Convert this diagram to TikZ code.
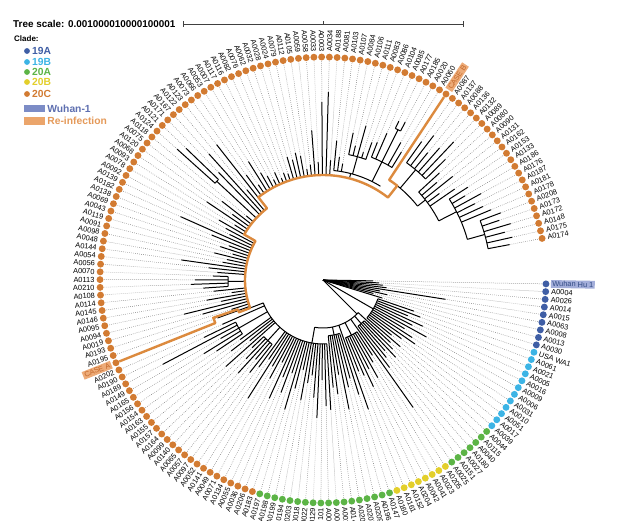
\documentclass[tikz,border=0pt]{standalone}
\usepackage{fontspec}
\setmainfont{Liberation Sans}
\usetikzlibrary{positioning}

\definecolor{c19A}{HTML}{3F5EA5}
\definecolor{c19B}{HTML}{3CB4E5}
\definecolor{c20A}{HTML}{5CB446}
\definecolor{c20B}{HTML}{E3CF2B}
\definecolor{c20C}{HTML}{D27B32}
\definecolor{wubar}{HTML}{7C8CC6}
\definecolor{wutext}{HTML}{5E6FB0}
\definecolor{wubg}{HTML}{A3AEDA}
\definecolor{reinfline}{HTML}{DC8A3E}
\definecolor{reinfbar}{HTML}{EBA56B}
\definecolor{reinftext}{HTML}{E59A5A}
\definecolor{casebg}{HTML}{EDAB78}
\definecolor{casetext}{HTML}{C4682A}

\tikzset{
  branch/.style={line width=1pt, black},
  guide/.style={black!55, line width=0.5pt, dash pattern=on 0.6pt off 1.4pt},
  reinf/.style={line width=2.4pt, reinfline, line join=round},
  dot/.style={circle, inner sep=0pt, minimum size=6.9pt},
  lbl/.style={font=\fontsize{7.4}{8}\selectfont, inner sep=0.6pt},
  lab0/.style={fill=wubg, text=c19A!80!black, inner xsep=1.4pt, inner ysep=1.2pt},
  lab79/.style={fill=casebg, text=casetext, inner xsep=1.6pt, inner ysep=1.4pt},
  lab152/.style={fill=casebg, text=casetext, inner xsep=1.6pt, inner ysep=1.4pt},
  legtext/.style={font=\bfseries\fontsize{10.3}{11}\selectfont, inner sep=0pt, anchor=west},
}

\begin{document}
\begin{tikzpicture}[x=1pt, y=1pt]
  \path[use as bounding box, fill=white] (-323,-240) rectangle (311,280);

  % leaf branches: index / start radius / tip radius
  \foreach \i/\ra/\rb in {0/0/50, 1/0/56, 2/0/60, 3/0/64, 4/0/124, 5/0/58, 6/0/66, 7/0/52, 8/0/62,
    9/58/96, 10/58/104, 11/58/92, 12/58/110, 13/58/100, 14/58/118, 15/58/95, 16/58/106, 17/58/112, 18/58/98, 19/58/88, 20/58/102,
    21/48/92, 22/58/98, 23/58/106, 24/58/94, 25/58/100, 26/58/110, 27/48/156,
    28/62/90, 29/62/96, 30/62/112, 31/62/100, 32/62/118, 33/62/104, 34/62/98, 35/48/137,
    36/56/120, 37/56/102, 38/56/110, 39/56/132, 40/56/96, 41/56/115, 42/56/108,
    43/64/130, 44/64/126, 45/64/100, 46/64/138, 47/64/118, 48/64/96, 49/64/104, 50/64/122, 51/64/92, 52/64/112, 53/64/135,
    54/64/98, 55/64/120, 56/64/105, 57/64/130, 58/64/92, 59/64/112, 60/64/100, 61/64/140, 62/64/96, 63/64/108,
    64/82/118, 65/82/104, 66/82/126, 67/82/110, 68/82/98,
    69/64/130, 70/64/95, 71/64/116, 72/64/102,
    73/97/128, 74/97/140, 75/97/118, 76/97/181, 77/97/132,
    78/64/110, 79/219/219,
    80/78/112, 81/78/96, 82/78/125, 83/78/143, 84/78/104, 85/78/118, 86/78/92, 87/78/110,
    88/95/120, 89/95/132, 90/95/128, 91/95/110,
    92/78/106, 93/78/115, 94/78/143, 95/78/102, 96/78/98, 97/78/112, 98/78/94, 99/78/108, 100/78/100,
    101/78/120, 102/78/156, 103/78/104, 104/78/110,
    105/91/120, 106/91/104, 107/91/140, 108/91/112, 109/91/128, 110/91/100, 111/145/196, 112/145/190,
    113/91/150, 114/91/170, 115/91/118,
    116/105/172, 117/105/130, 118/105/115, 119/105/140, 120/105/124, 121/105/118, 122/105/112, 123/105/118,
    124/105/110, 125/105/114, 126/105/112, 127/105/128, 128/105/124, 129/105/130, 130/105/126, 131/105/112,
    132/105/116, 133/105/150, 134/105/118, 135/105/178, 136/105/188, 137/105/120,
    138/110/140, 139/110/124, 140/110/118, 141/128/150, 142/128/138, 143/128/160, 144/128/134, 145/128/146,
    146/132/148, 147/132/160, 148/168/176, 149/168/178, 150/132/158, 151/132/150,
    152/219/219,
    153/144/170, 154/144/182, 155/144/165, 156/144/176, 157/144/190, 158/144/172,
    159/130/158, 160/130/150, 161/130/166, 162/130/145, 163/130/160,
    164/150/172, 165/150/165, 166/150/180, 167/150/170, 168/150/176, 169/150/182,
    170/168/190, 171/168/186, 172/168/196, 173/168/188, 174/168/194, 175/168/190}{
    \pgfmathsetmacro\a{-1-1.99*\i}
    \draw[branch] (\a:\ra) -- (\a:\rb);
    \coordinate (t\i) at (\a:\rb);
  }

  % inner stems: position in leaf steps / start radius / end radius
  \foreach \k/\ra/\rb in {14.5/0/58, 22.1/0/48, 24/48/58, 31/48/62, 39/48/56, 49.75/48/64,
    66/64/82, 75/64/97, 79.4/64/78, 89.5/78/95, 111.5/91/145, 142.5/105/110, 143/110/128,
    148.5/110/132, 148.5/132/168, 155.3/120/144, 161.3/120/130, 166.8/130/150, 172.5/150/168}{
    \pgfmathsetmacro\a{-1-1.99*\k}
    \draw[branch] (\a:\ra) -- (\a:\rb);
  }

  % inner arcs: radius / from / to (in leaf steps)
  \foreach \r/\p/\q in {58/9/20, 48/21/49.75, 58/22/26, 62/28/34, 56/36/42, 64/43/79.4,
    82/64/68, 97/73/77, 95/88/91, 145/111/112, 110/138/151, 128/141/145, 132/146/151,
    168/148/149, 120/154.4/161.3, 144/153/158, 130/159/166.8, 150/164/172.5, 168/170/175}{
    \pgfmathsetmacro\ap{-1-1.99*\p}
    \pgfmathsetmacro\aq{-1-1.99*\q}
    \draw[branch] (\ap:\r) arc[start angle=\ap, end angle=\aq, radius=\r pt];
  }

  % leaves, dots and names
  \foreach \n/\c [count=\i from 0] in {Wuhan Hu 1/c19A, A0004/c19A, A0026/c19A, A0014/c19A, A0015/c19A,
    A0063/c19A, A0008/c19A, A0013/c19A, A0030/c19A,
    USA WA1/c19B, A0061/c19B, A0021/c19B, A0005/c19B, A0016/c19B, A0009/c19B, A0006/c19B, A0031/c19B,
    A0010/c19B, A0051/c19B, A0017/c19B, A0039/c19B,
    A0044/c20A, A0115/c20A, A0040/c20A, A0180/c20A, A0027/c20A, A0151/c20A, A0025/c20A,
    A0205/c20B, A0023/c20B, A0041/c20B, A0042/c20B, A0204/c20B, A0152/c20B, A0161/c20B, A0160/c20B,
    A0147/c20A, A0196/c20A, A0209/c20A, A0207/c20A, A0200/c20A, A0143/c20A, A0011/c20A, A0001/c20A,
    A0002/c20A, A0101/c20A, A0129/c20A, A0022/c20A, A0018/c20A, A0203/c20A, A0194/c20A, A0199/c20A,
    A0198/c20A, A0197/c20A,
    A0183/c20C, A0206/c20C, A0036/c20C, A0055/c20C, A0134/c20C, A0071/c20C, A0049/c20C, A0141/c20C,
    A0052/c20C, A0097/c20C, A0057/c20C, A0065/c20C, A0140/c20C, A0099/c20C, A0164/c20C, A0157/c20C,
    A0155/c20C, A0163/c20C, A0154/c20C, A0156/c20C, A0165/c20C, A0149/c20C, A0189/c20C, A0190/c20C,
    A0202/c20C, CASE A/c20C, A0195/c20C, A0193/c20C, A0019/c20C, A0094/c20C, A0095/c20C, A0146/c20C,
    A0145/c20C, A0114/c20C, A0108/c20C, A0210/c20C, A0113/c20C, A0070/c20C, A0056/c20C, A0054/c20C,
    A0144/c20C, A0048/c20C, A0098/c20C, A0091/c20C, A0119/c20C, A0043/c20C, A0069/c20C, A0138/c20C,
    A0182/c20C, A0139/c20C, A0092/c20C, A0078/c20C, A0093/c20C, A0068/c20C, A0120/c20C, A0075/c20C,
    A0118/c20C, A0124/c20C, A0121/c20C, A0171/c20C, A0167/c20C, A0122/c20C, A0123/c20C, A0073/c20C,
    A0066/c20C, A0053/c20C, A0007/c20C, A0117/c20C, A0116/c20C, A0082/c20C, A0076/c20C, A0062/c20C,
    A0032/c20C, A0028/c20C, A0024/c20C, A0079/c20C, A0112/c20C, A0105/c20C, A0059/c20C, A0058/c20C,
    A0033/c20C, A0003/c20C, A0034/c20C, A0188/c20C, A0081/c20C, A0103/c20C, A0107/c20C, A0084/c20C,
    A0106/c20C, A0111/c20C, A0083/c20C, A0086/c20C, A0104/c20C, A0085/c20C, A0177/c20C, A0185/c20C,
    A0020/c20C, A0060/c20C, CASE B/c20C, A0087/c20C, A0137/c20C, A0088/c20C, A0136/c20C, A0132/c20C,
    A0089/c20C, A0080/c20C, A0090/c20C, A0131/c20C, A0162/c20C, A0153/c20C, A0133/c20C, A0186/c20C,
    A0176/c20C, A0187/c20C, A0181/c20C, A0178/c20C, A0208/c20C, A0173/c20C, A0172/c20C, A0148/c20C,
    A0175/c20C, A0174/c20C}{
    \pgfmathsetmacro\a{-1-1.99*\i}
    \pgfmathtruncatemacro\flip{cos(\a)<0}
    \node[dot, fill=\c] (d\i) at (\a:223) {};
    \draw[guide] (t\i) -- (d\i);
    \ifnum\flip=1
      \node[lbl, lab\i/.try, anchor=east, rotate=\a+180] (n\i) at (\a:227.8) {\n};
    \else
      \node[lbl, lab\i/.try, anchor=west, rotate=\a] (n\i) at (\a:227.8) {\n};
    \fi
  }

  % re-infection path from CASE A to CASE B
  \draw[reinf] (d79) -- (-158.21:116) arc[start angle=-158.21, end angle=-161, radius=116pt]
    -- (-161:90) arc[start angle=-161, end angle=-159, radius=90pt]
    -- (-159:78) arc[start angle=-159, end angle=-210, radius=78pt]
    -- (-210:91) arc[start angle=-210, end angle=-232, radius=91pt]
    -- (-232:105) arc[start angle=-232, end angle=-308.2, radius=105pt]
    -- (-308.2:120) arc[start angle=-308.2, end angle=-303.48, radius=120pt] -- (d152);

  % scale and legend
  \node[legtext, font=\bfseries\fontsize{9.9}{11}\selectfont] (scale) at (-310,256) {Tree scale: 0.001000010000100001};
  \coordinate (sbl) at (-140,256);
  \coordinate (sbr) at (140,256);
  \draw[black!75, line width=0.7pt] (sbl) -- (sbr);
  \draw[black!75, line width=0.7pt] ([yshift=-3]sbl) -- ([yshift=3]sbl) (0,256) -- (0,259) ([yshift=-3]sbr) -- ([yshift=3]sbr);

  \node[legtext, font=\bfseries\fontsize{8}{9}\selectfont] (clade) at (-309,241) {Clade:};
  \foreach \lab/\c/\y in {19A/c19A/229, 19B/c19B/218, 20A/c20A/208, 20B/c20B/198, 20C/c20C/186}{
    \node[dot, fill=\c, minimum size=5.8pt] (k\lab) at (-296,\y) {};
    \node[legtext, text=\c, right=1.8pt of k\lab] (kt\lab) {\lab};
  }
  \node[fill=wubar, minimum width=21pt, minimum height=7pt, inner sep=0pt] (kwu) at (-288.5,171.5) {};
  \node[legtext, text=wutext, right=2pt of kwu] (ktwu) {Wuhan-1};
  \node[fill=reinfbar, minimum width=21pt, minimum height=8pt, inner sep=0pt] (kre) at (-288.5,159) {};
  \node[legtext, text=reinftext, right=2pt of kre] (ktre) {Re-infection};
\end{tikzpicture}
\end{document}
